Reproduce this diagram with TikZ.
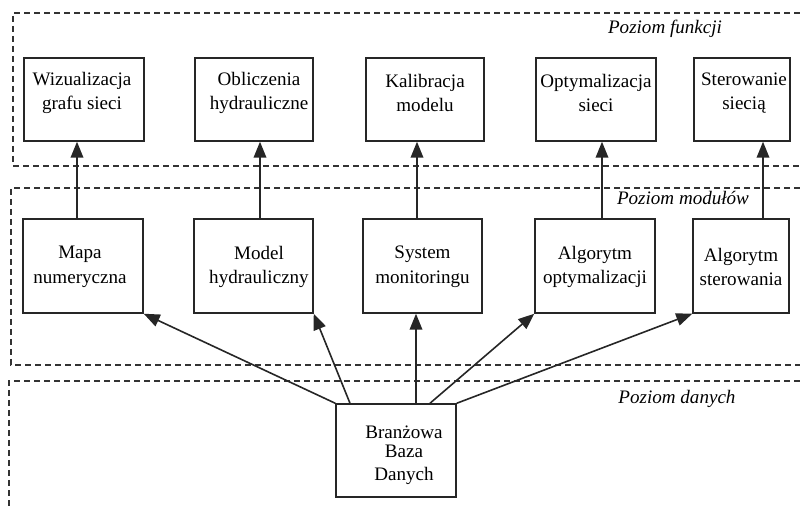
\documentclass[tikz,border=0pt]{standalone}
\usepackage{fontspec}
\setmainfont{Liberation Serif}
\usetikzlibrary{arrows.meta,calc}
\begin{document}
\begin{tikzpicture}[x=0.75pt,y=-0.75pt,
  box/.style={draw=black!85,line width=1.1pt,inner sep=0pt,minimum height=#1*0.75pt},
  txt/.style={align=center,inner sep=0pt,font=\fontsize{14.3}{18.5}\selectfont},
  region/.style={draw=black!80,line width=0.9pt,dash pattern=on 4.5pt off 3pt},
  arr/.style={draw=black!85,line width=1.2pt,-{Triangle[length=12pt,width=9.5pt]}},
  lvl/.style={font=\fontsize{14.3}{16}\selectfont\itshape,inner sep=0pt}]
\useasboundingbox (0,0) rectangle (800,509);
% regions
\draw[region] (800,13) -- (13,13) -- (13,166) -- (800,166);
\draw[region] (800,188) -- (11,188) -- (11,365) -- (800,365);
\draw[region] (800,381) -- (9,381) -- (9,509);
% level labels
\node[lvl] (lf) at (665,29) {Poziom funkcji};
\node[lvl] (lm) at (683,198) {Poziom modułów};
\node[lvl] (ld) at (677,399) {Poziom danych};
% function boxes
\node[box=83,minimum width=120*0.75pt] (f1) at (84,99.5) {};
\node[box=83,minimum width=118*0.75pt] (f2) at (254,99.5) {};
\node[box=83,minimum width=118*0.75pt] (f3) at (425,99.5) {};
\node[box=83,minimum width=120*0.75pt] (f4) at (596,99.5) {};
\node[box=83,minimum width=96*0.75pt] (f5) at (742,99.5) {};
\node[txt] (f1t) at (82,93) {Wizualizacja\\grafu sieci};
\node[txt] (f2t) at (259,93) {Obliczenia\\hydrauliczne};
\node[txt] (f3t) at (425,93) {Kalibracja\\modelu};
\node[txt] (f4t) at (596,93) {Optymalizacja\\sieci};
\node[txt] (f5t) at (744,93) {Sterowanie\\siecią};
% module boxes
\node[box=94,minimum width=120*0.75pt] (m1) at (83,266) {};
\node[box=94,minimum width=119*0.75pt] (m2) at (253.5,266) {};
\node[box=94,minimum width=119*0.75pt] (m3) at (422.5,266) {};
\node[box=94,minimum width=120*0.75pt] (m4) at (595,266) {};
\node[box=94,minimum width=96*0.75pt] (m5) at (741,266) {};
\node[txt] (m1t) at (80,267) {Mapa\\numeryczna};
\node[txt] (m2t) at (259,267) {Model\\hydrauliczny};
\node[txt] (m3t) at (422.5,267) {System\\monitoringu};
\node[txt] (m4t) at (595,267) {Algorytm\\optymalizacji};
\node[txt] (m5t) at (741,267) {Algorytm\\sterowania};
% data box
\node[box=93,minimum width=120*0.75pt] (db) at (396,450.5) {};
\node[txt] (dbt) at (404,455) {Branżowa\\[-4.25pt]Baza\\[-1.25pt]Danych};
% arrow positions
\coordinate (a1) at (77,0);
\coordinate (a2) at (260,0);
\coordinate (a3) at (417,0);
\coordinate (a4) at (602,0);
\coordinate (a5) at (763,0);
\coordinate (b2) at (350,0);
\coordinate (b3) at (416,0);
\coordinate (b4) at (430,0);
% module -> function
\draw[arr] (m1.north -| a1) -- (f1.south -| a1);
\draw[arr] (m2.north -| a2) -- (f2.south -| a2);
\draw[arr] (m3.north -| a3) -- (f3.south -| a3);
\draw[arr] (m4.north -| a4) -- (f4.south -| a4);
\draw[arr] (m5.north -| a5) -- (f5.south -| a5);
% data -> module
\draw[arr] (db.north west) -- (m1.south east);
\draw[arr] (db.north -| b2) -- (m2.south east);
\draw[arr] (db.north -| b3) -- (m3.south -| b3);
\draw[arr] (db.north -| b4) -- (m4.south west);
\draw[arr] (db.north east) -- (m5.south west);
\end{tikzpicture}
\end{document}
